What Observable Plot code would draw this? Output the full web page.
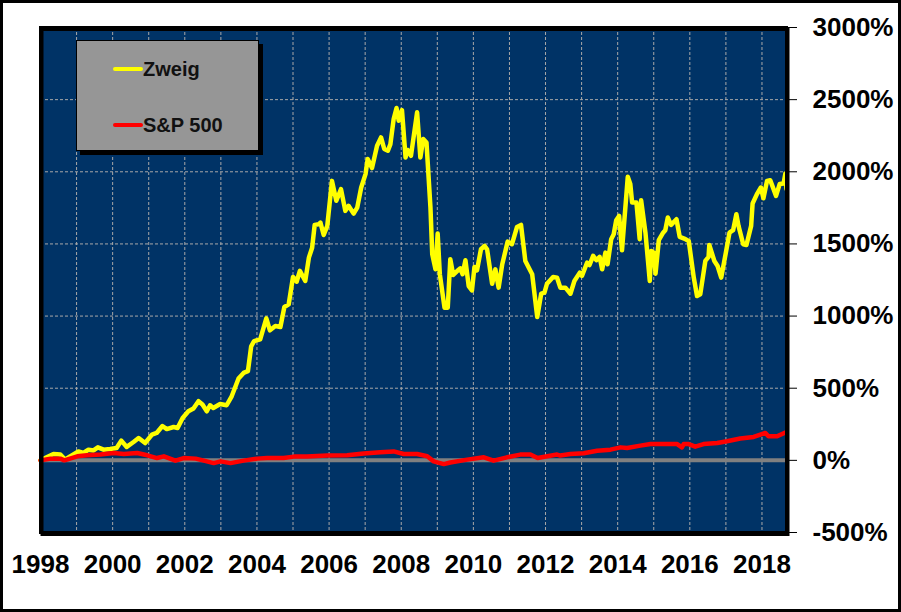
<!DOCTYPE html>
<html>
<head>
<meta charset="utf-8">
<script src="https://cdn.jsdelivr.net/npm/d3@7"></script>
<script src="https://cdn.jsdelivr.net/npm/@observablehq/plot@0.6"></script>
<style>
  html, body { margin: 0; padding: 0; background: white; }
  #wrap { position: relative; width: 901px; height: 612px; font-family: "Liberation Sans", Arial, sans-serif; }
  #wrap svg { display: block; outline: 3px solid black; outline-offset: -3px; }
  #legend { position: absolute; left: 76px; top: 40px; width: 183px; height: 111px; box-sizing: border-box;
            background: #969696; border: 1px solid black; box-shadow: 4px 4px 0 black; }
  .sw { position: absolute; left: 36px; width: 30px; height: 4px; border-radius: 2px; }
  .lab { position: absolute; left: 66px; font-size: 20px; line-height: 20px; font-weight: bold; color: #111; }
</style>
</head>
<body>
<div id="wrap"></div>
<script>
// ---- data ----
const seriesNames = ["Zweig", "S&P 500"];
const seriesColors = ["#ffff00", "#ff0000"];

const zweigYears = [
  1998.00,1998.20,1998.36,1998.55,1998.68,1998.82,1999.05,1999.19,1999.33,1999.47,1999.59,1999.75,1999.93,
  2000.11,2000.24,2000.39,2000.58,2000.72,2000.90,2001.09,2001.22,2001.38,2001.50,2001.69,2001.80,2001.94,
  2002.10,2002.24,2002.38,2002.49,2002.61,2002.70,2002.79,2002.98,2003.16,2003.30,2003.49,2003.63,2003.75,
  2003.84,2003.92,2004.09,2004.26,2004.36,2004.51,2004.65,2004.76,2004.88,2005.00,2005.10,2005.19,2005.34,
  2005.44,2005.53,2005.60,2005.71,2005.76,2005.85,2005.95,2006.08,2006.20,2006.33,2006.45,2006.54,2006.68,
  2006.78,2006.89,2007.01,2007.07,2007.19,2007.33,2007.44,2007.53,2007.63,2007.70,2007.79,2007.87,2007.93,
  2008.02,2008.12,2008.18,2008.27,2008.44,2008.53,2008.61,2008.70,2008.81,2008.86,2008.95,2009.01,2009.07,
  2009.20,2009.29,2009.36,2009.44,2009.55,2009.64,2009.70,2009.78,2009.87,2009.96,2010.03,2010.10,2010.21,
  2010.31,2010.38,2010.52,2010.61,2010.70,2010.80,2010.95,2011.07,2011.21,2011.32,2011.44,2011.63,2011.77,
  2011.88,2011.97,2012.04,2012.21,2012.32,2012.41,2012.55,2012.69,2012.80,2012.95,2013.01,2013.15,2013.22,
  2013.32,2013.41,2013.50,2013.57,2013.66,2013.72,2013.82,2013.89,2013.96,2014.04,2014.12,2014.28,2014.35,
  2014.40,2014.52,2014.61,2014.65,2014.77,2014.89,2014.93,2015.00,2015.05,2015.14,2015.26,2015.32,2015.39,
  2015.48,2015.63,2015.72,2015.88,2015.97,2016.11,2016.20,2016.29,2016.43,2016.52,2016.54,2016.68,2016.77,
  2016.87,2016.99,2017.10,2017.20,2017.29,2017.35,2017.48,2017.57,2017.70,2017.74,2017.86,2017.97,2018.04,
  2018.14,2018.23,2018.39,2018.49,2018.60,2018.65,2018.68
];
const zweigValues = [
  0,25,44,40,5,28,62,51,74,69,90,74,79,
  86,137,93,127,155,120,178,190,238,217,231,224,294,
  340,359,410,387,340,382,363,391,382,444,567,606,618,
  790,826,838,984,901,931,924,1063,1081,1271,1238,1313,1243,
  1405,1474,1632,1636,1648,1562,1625,1937,1799,1880,1729,1764,1710,
  1752,1891,1984,2088,2026,2180,2238,2158,2146,2192,2366,2442,2354,
  2428,2099,2151,2111,2412,2099,2227,2203,1752,1428,1324,1572,1290,
  1058,1058,1394,1285,1312,1331,1290,1387,1208,1178,1340,1317,1463,
  1486,1463,1224,1324,1197,1359,1516,1498,1618,1632,1382,1290,993,
  1155,1162,1224,1271,1266,1197,1197,1155,1243,1301,1278,1370,1354,
  1417,1387,1410,1324,1440,1359,1533,1567,1664,1694,1456,1965,1915,
  1787,1787,1533,1803,1578,1243,1451,1440,1294,1526,1578,1595,1683,
  1632,1671,1549,1533,1521,1266,1139,1151,1382,1410,1493,1382,1347,
  1266,1428,1578,1595,1706,1625,1498,1493,1625,1780,1845,1891,1817,
  1937,1942,1833,1915,1919,1988,1880
];

const spYears = [
  1998.00,1998.28,1998.55,1998.66,1999.02,1999.29,1999.66,2000.03,2000.31,2000.68,2000.96,2001.23,2001.42,
  2001.74,2001.97,2002.30,2002.53,2002.80,2002.99,2003.27,2003.63,2004.01,2004.28,2004.74,2005.02,2005.39,
  2005.95,2006.50,2006.96,2007.42,2007.79,2008.07,2008.44,2008.72,2008.90,2009.18,2009.36,2009.83,2010.29,
  2010.56,2010.93,2011.30,2011.58,2011.78,2012.32,2012.41,2012.69,2013.06,2013.43,2013.80,2014.08,2014.26,
  2014.63,2014.91,2015.28,2015.65,2015.78,2015.83,2015.97,2016.15,2016.38,2016.76,2017.03,2017.40,2017.77,
  2018.09,2018.18,2018.42,2018.68
];
const spValues = [
  0,12,12,0,28,35,40,51,44,51,35,16,28,
  -2,16,12,-2,-19,-7,-19,-2,12,16,16,26,26,
  33,35,47,56,62,44,44,28,-7,-26,-15,5,21,
  -2,21,40,40,16,40,33,44,49,67,74,90,86,
  102,113,113,113,90,113,113,95,113,120,132,151,162,
  190,167,167,197
];

const yTicks = [-500, 0, 500, 1000, 1500, 2000, 2500, 3000];
const yGrid = [500, 1000, 1500, 2000, 2500];
const xTicks = [1998, 2000, 2002, 2004, 2006, 2008, 2010, 2012, 2014, 2016, 2018];
const xGrid = d3.range(1999, 2019);

// ---- tables ----
const zweig = zweigYears.map((t, i) => ({t, v: zweigValues[i]}));
const sp = spYears.map((t, i) => ({t, v: spValues[i]}));

const chart = Plot.plot({
  width: 901,
  height: 612,
  marginLeft: 40,
  marginRight: 115,
  marginTop: 27,
  marginBottom: 80,
  x: {domain: [1998, 2018.68]},
  y: {domain: [-500, 3000]},
  style: {background: "white", fontFamily: "'Liberation Sans', Arial, sans-serif", fontWeight: "bold", color: "black", overflow: "visible"},
  marks: [
    Plot.frame({fill: "#003366"}),
    Plot.gridX(xGrid, {stroke: "#a8a8a8", strokeOpacity: 1, strokeDasharray: "3,2", strokeWidth: 1}),
    Plot.gridY(yGrid, {stroke: "#a8a8a8", strokeOpacity: 1, strokeDasharray: "3,2", strokeWidth: 1}),
    Plot.ruleY([0], {stroke: "#808080", strokeWidth: 4}),
    Plot.line(zweig, {x: "t", y: "v", stroke: seriesColors[0], strokeWidth: 4.5, strokeLinejoin: "round"}),
    Plot.line(sp, {x: "t", y: "v", stroke: seriesColors[1], strokeWidth: 4.5, strokeLinejoin: "round"}),
    Plot.axisY(yTicks, {anchor: "right", tickFormat: d => d + "%", tickSize: 10, tickPadding: 16, fontSize: 26, fontWeight: "bold", label: null, textAnchor: "start"}),
    Plot.axisX(xTicks, {anchor: "bottom", tickFormat: d => String(d), tickSize: 0, tickPadding: 22, fontSize: 26, fontWeight: "bold", label: null}),
    Plot.frame({stroke: "black", strokeWidth: 3}),
    Plot.frame({stroke: "black", strokeWidth: 3, dx: 1.5, dy: 2})
  ]
});

const wrap = document.getElementById("wrap");
wrap.appendChild(chart);

// legend overlay
const legend = document.createElement("div");
legend.id = "legend";
const tops = [28, 84];
seriesNames.forEach((name, i) => {
  const sw = document.createElement("div");
  sw.className = "sw";
  sw.style.top = (tops[i] - 2) + "px";
  sw.style.background = seriesColors[i];
  const lab = document.createElement("div");
  lab.className = "lab";
  lab.style.top = (tops[i] - 10) + "px";
  lab.textContent = name;
  legend.appendChild(sw);
  legend.appendChild(lab);
});
wrap.appendChild(legend);
</script>
</body>
</html>
